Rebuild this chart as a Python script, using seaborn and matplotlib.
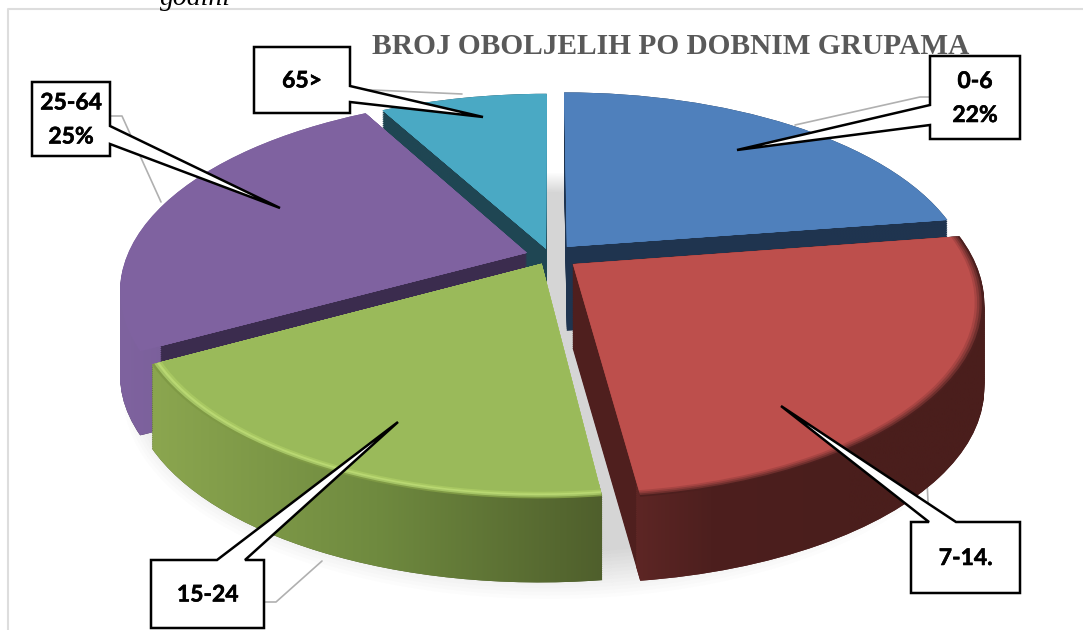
import numpy as np
import matplotlib
matplotlib.use('Agg')
import matplotlib.pyplot as plt
import matplotlib.patheffects as pe
import seaborn as sns
from matplotlib.path import Path
from matplotlib.patches import Polygon
from matplotlib.transforms import Transform

# data
groups = ['0-6', '7-14.', '15-24', '25-64', '65>']
shares = [22.6, 25.4, 19, 25, 8]
percent_labels = ['22%', '', '', '25%', '']
title = 'BROJ OBOLJELIH PO DOBNIM GRUPAMA'

# look of the slices
explode = [0.065, 0.07, 0.045, 0.06, 0.04]
top_colors = ['#4f80bc', '#bd4f4c', '#9aba5a', '#7f62a0', '#4aa9c4']
inner_colors = ['#1f344f', '#4f1f1e', '#4f5f2b', '#3b2c4e', '#1f4653']
wall_colors = [['#1f344f', '#1f344f'],
               ['#6b2c2a', '#4d1f1e', '#4a1e1c', '#4a1e1c'],
               ['#8ba64f', '#6f8a3f', '#4f5f2c'],
               ['#7f639f', '#5f4a80'],
               ['#1f4653', '#1f4653']]
# bevel colours from the outer edge of the top face inwards
bevel_colors = [['#4f80bc'] * 5,
                ['#4d1f1e', '#6e2f2d', '#8c3b39', '#a84543', '#bd4f4c'],
                ['#7f9a45', '#a5c465', '#b9d872', '#a8c862', '#9aba5a'],
                ['#7f62a0'] * 5,
                ['#4aa9c4'] * 5]
bevel_radii = [1.0, 0.994, 0.988, 0.982, 0.976]
draw_order = [4, 0, 3, 2, 1]  # back to front, by index

# perspective of the disc in pixels
CX, CY = 550, 256
RX, RY = 400, 187
PERSP = 0.19
DEPTH = 84
N_LAYERS = 45


class Tilt(Transform):
    input_dims = 2
    output_dims = 2

    def __init__(self, drop=0.0):
        super().__init__()
        self.drop = drop

    def transform_non_affine(self, xy):
        xy = np.asarray(xy, dtype=float)
        w = 1 / (1 + PERSP * xy[:, 1])
        return np.column_stack([CX + RX * xy[:, 0] * w,
                                CY - RY * xy[:, 1] * w + DEPTH * self.drop])


sns.set_theme(style='white')
fig = plt.figure(figsize=(10.83, 6.30), dpi=100)
ax = fig.add_axes([0, 0, 1, 1])

pie_args = dict(explode=explode, startangle=90, counterclock=False)
z_of = {s: k + 1 for k, s in enumerate(draw_order)}

# soft shadow below everything
for d, r in zip(np.linspace(1.18, 0.85, 14), np.linspace(1.045, 0.98, 14)):
    wedges, _ = ax.pie(shares, radius=r, colors=['#555555'] * 5,
                       wedgeprops=dict(alpha=0.016, lw=0), startangle=90, counterclock=False)
    for w in wedges:
        w.set_transform(Tilt(d) + ax.transData)
        w.set_zorder(0.5)

# sides: stacked copies of the pie, inner faces in a dark colour
for d in np.linspace(1, 0.02, N_LAYERS):
    wedges, _ = ax.pie(shares, colors=inner_colors, wedgeprops=dict(lw=0), **pie_args)
    for i, w in enumerate(wedges):
        w.set_transform(Tilt(d) + ax.transData)
        w.set_zorder(z_of[i] + 0.1)

# outer wall: stacked thin rings give the clip shape of a horizontal gradient
wall_paths = [[] for s in shares]
for d in np.linspace(1, 0, N_LAYERS):
    wedges, _ = ax.pie(shares, colors=inner_colors, wedgeprops=dict(lw=0, width=0.05), **pie_args)
    for i, w in enumerate(wedges):
        wall_paths[i].append(Tilt(d).transform_path(w.get_path()))
        w.remove()

for i in range(len(shares)):
    clip = Path.make_compound_path(*wall_paths[i])
    x0, y0 = clip.vertices.min(axis=0)
    x1, y1 = clip.vertices.max(axis=0)
    cmap = sns.blend_palette(wall_colors[i], as_cmap=True)
    im = ax.imshow(np.linspace(0, 1, 256)[None, :], cmap=cmap, extent=(x0, x1, y1, y0),
                   aspect='auto', zorder=z_of[i] + 0.5, interpolation='bilinear')
    im.set_clip_path(clip, ax.transData)

# top faces, with a small bevel along the rim
for k, r in enumerate(bevel_radii):
    cols = [c[k] for c in bevel_colors]
    wedges, _ = ax.pie(shares, colors=cols, radius=r, wedgeprops=dict(lw=0),
                       explode=[e / r for e in explode], startangle=90, counterclock=False)
    for i, w in enumerate(wedges):
        w.set_transform(Tilt(0) + ax.transData)
        w.set_zorder(z_of[i] + 0.6 + k * 0.05)
wedges, _ = ax.pie(shares, colors=top_colors, radius=0.97, wedgeprops=dict(lw=0),
                   explode=[e / 0.97 for e in explode], startangle=90, counterclock=False)
for i, w in enumerate(wedges):
    w.set_transform(Tilt(0) + ax.transData)
    w.set_zorder(z_of[i] + 0.9)

ax.set_aspect('auto')
ax.set_xlim(0, 1083)
ax.set_ylim(630, 0)
ax.axis('off')

# frame of the embedded chart
ax.plot([1083, 8, 8], [9, 9, 630], color='#dddddd', lw=1.5, zorder=0.2, clip_on=False)

ax.text(160, 5, 'godini', family='Liberation Serif', style='italic', fontsize=20, color='black')
ax.text(671, 46, title, family='Liberation Serif', weight='bold', fontsize=21.2,
        color='#595959', ha='center', va='center', zorder=10)

# grey leader lines
leaders = [([350, 462], [89, 94]),
           ([110, 122, 161], [116, 116, 202]),
           ([795, 920, 930], [125, 97, 97]),
           ([264, 276, 322], [602, 602, 561]),
           ([927, 929], [481, 522])]
for lx, ly in leaders:
    ax.plot(lx, ly, color='#b0b0b0', lw=1.2, zorder=0.6)

# callouts: box, two root points on one side, tip
callouts = [
    ((930, 56, 1020, 139), 'left', (105, 125), (737, 150), 0),
    ((911, 522, 1020, 593), 'top', (956, 929), (781, 406), 1),
    ((151, 560, 264, 628), 'top', (245, 217), (398, 422), 2),
    ((32, 82, 110, 156), 'right', (126, 144), (280, 208), 3),
    ((254, 47, 350, 113), 'right', (86, 102), (483, 117), 4),
]
# the installed sans has no heavy enough cut, a thin stroke makes up for it
label_style = dict(family='Lato', weight='bold', fontsize=16.5, ha='center', va='center',
                   color='black', zorder=21,
                   path_effects=[pe.withStroke(linewidth=0.4, foreground='black')])
for (x0, y0, x1, y1), side, root, tip, i in callouts:
    if side == 'left':
        pts = [(x0, y0), (x1, y0), (x1, y1), (x0, y1), (x0, root[1]), tip, (x0, root[0])]
    elif side == 'right':
        pts = [(x0, y0), (x1, y0), (x1, root[0]), tip, (x1, root[1]), (x1, y1), (x0, y1)]
    else:
        pts = [(x0, y0), (root[1], y0), tip, (root[0], y0), (x1, y0), (x1, y1), (x0, y1)]
    ax.add_patch(Polygon(pts, closed=True, fc='white', ec='black', lw=1.8, zorder=20, joinstyle='miter'))
    cx, cy = (x0 + x1) / 2, (y0 + y1) / 2
    if percent_labels[i]:
        ax.text(cx, cy - 16, groups[i], **label_style)
        ax.text(cx, cy + 18, percent_labels[i], **label_style)
    else:
        ax.text(cx, cy + 1, groups[i], **label_style)

fig.savefig('out.png', dpi=100, facecolor='white')
